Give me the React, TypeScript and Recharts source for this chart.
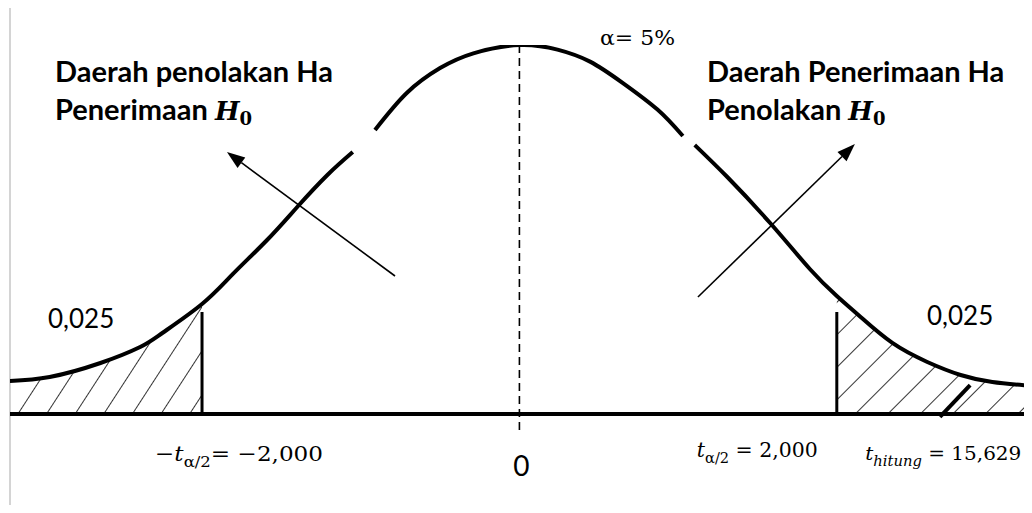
import React from 'react';
import { Area, ComposedChart, Line, ReferenceLine, XAxis, YAxis } from 'recharts';

// t positions read along the curve, and the drawn curve height at each (null = break in the stroke)
const tValues = [
	-3.21, -2.96, -2.64, -2.39, -2.25, -2.0, -1.805, -1.59, -1.4, -1.21, -1.05, -0.98, -0.91, -0.71, -0.5,
	-0.29, 0, 0.24, 0.445, 0.65, 0.87, 1.03, 1.07, 1.105, 1.31, 1.58, 1.83, 2.0, 2.15, 2.35, 2.57, 2.78, 2.98,
	3.23,
];
const density = [
	0.0358, 0.0401, 0.0553, 0.0726, 0.0878, 0.1192, 0.1518, 0.1886, 0.2244, 0.2591, 0.284, null, 0.3079, 0.348,
	0.375, 0.391, 0.4, 0.395, 0.382, 0.359, 0.33, 0.3013, null, 0.2916, 0.2569, 0.207, 0.1572, 0.1279, 0.1051,
	0.077, 0.0564, 0.0423, 0.0347, 0.0303,
];

const tCritical = 2;
const criticalLineTop = 0.1106;
const tHitungMark = 2.69;
const axisTicks = [-tCritical, 0, tCritical, tHitungMark];

// arrows: tail -> tip, in chart units
const leftArrow = [
	{ x: -0.784, y: 0.1496 },
	{ x: -1.843, y: 0.284 },
];
const rightArrow = [
	{ x: 1.125, y: 0.1268 },
	{ x: 2.114, y: 0.2927 },
];
const hitungStroke = [
	{ x: 2.65, y: -0.003 },
	{ x: 2.84, y: 0.0314 },
];

const data = tValues.map((t, i) => {
	const v = density[i];
	return {
		t,
		v,
		left: v !== null && t <= -tCritical ? v : null,
		right: v !== null && t >= tCritical ? v : null,
	};
});

const serif = '"DejaVu Serif", "Liberation Serif", serif';
const sans = 'Lato, "Open Sans", sans-serif';

const Arrow = (props: any) => {
	const { x1, y1, x2, y2 } = props;
	const ang = Math.atan2(y2 - y1, x2 - x1);
	const len = 18;
	const half = 6.5;
	const bx = x2 - len * Math.cos(ang);
	const by = y2 - len * Math.sin(ang);
	const px = -Math.sin(ang) * half;
	const py = Math.cos(ang) * half;
	return (
		<g>
			<line x1={x1} y1={y1} x2={bx} y2={by} stroke="#000" strokeWidth={1.6} />
			<polygon points={`${x2},${y2} ${bx + px},${by + py} ${bx - px},${by - py}`} fill="#000" />
		</g>
	);
};

const AxisLabel = (props: any) => {
	const { x, y, payload } = props;
	const v = payload.value;
	if (v === 0) {
		return (
			<text x={x + 2} y={y + 62} textAnchor="middle" fontFamily={sans} fontSize={28} fill="#000">
				0
			</text>
		);
	}
	if (v === -tCritical) {
		return (
			<text
				x={x - 47}
				y={y + 47}
				textLength={168}
				lengthAdjust="spacingAndGlyphs"
				fontFamily={serif}
				fontSize={21}
				fill="#000"
			>
				<tspan>−</tspan>
				<tspan fontStyle="italic">t</tspan>
				<tspan fontSize={15} dy={6}>α/2</tspan>
				<tspan dy={-6}>= −2,000</tspan>
			</text>
		);
	}
	if (v === tCritical) {
		return (
			<text
				x={x - 140}
				y={y + 43}
				textLength={121}
				lengthAdjust="spacingAndGlyphs"
				fontFamily={serif}
				fontSize={21}
				fill="#000"
			>
				<tspan fontStyle="italic">t</tspan>
				<tspan fontSize={15} dy={6}>α/2</tspan>
				<tspan dy={-6}> = 2,000</tspan>
			</text>
		);
	}
	return (
		<text
			x={x - 81}
			y={y + 46}
			textLength={156}
			lengthAdjust="spacingAndGlyphs"
			fontFamily={serif}
			fontSize={19}
			fill="#000"
		>
			<tspan fontStyle="italic">t</tspan>
			<tspan fontSize={14} fontStyle="italic" dy={6}>hitung</tspan>
			<tspan dy={-6}> = 15,629</tspan>
		</text>
	);
};

export default function App() {
	return (
		<div style={{ position: 'relative', width: 1032, height: 513, margin: -8, overflow: 'hidden' }}>
			<ComposedChart
				width={1032}
				height={513}
				data={data}
				margin={{ top: 45, right: 0, left: 10, bottom: 39 }}
				style={{ position: 'absolute', left: 0, top: 0 }}
			>
				<defs>
					<pattern id="hatchL" patternUnits="userSpaceOnUse" width={24} height={60} patternTransform="rotate(33)">
						<line x1={0} y1={0} x2={0} y2={60} stroke="#000" strokeWidth={1.6} />
					</pattern>
					<pattern id="hatchR" patternUnits="userSpaceOnUse" width={23} height={60} patternTransform="rotate(45)">
						<line x1={0} y1={0} x2={0} y2={60} stroke="#000" strokeWidth={1.6} />
					</pattern>
				</defs>
				{/* page frame */}
				<path d="M10,513 L10,7 L1032,7" fill="none" stroke="#d4d4d4" strokeWidth={2} />
				<XAxis
					type="number"
					dataKey="t"
					domain={[-3.21, 3.23]}
					allowDataOverflow
					ticks={axisTicks}
					interval={0}
					height={60}
					tickSize={0}
					tickMargin={0}
					tickLine={false}
					axisLine={false}
					tick={<AxisLabel />}
				/>
				<YAxis hide domain={[0, 0.4]} allowDataOverflow />
				<Area
					dataKey="left"
					type="natural"
					stroke="none"
					fill="url(#hatchL)"
					fillOpacity={1}
					isAnimationActive={false}
					connectNulls={false}
				/>
				<Area
					dataKey="right"
					type="natural"
					stroke="none"
					fill="url(#hatchR)"
					fillOpacity={1}
					isAnimationActive={false}
					connectNulls={false}
				/>
				<ReferenceLine y={0} stroke="#000" strokeWidth={4} />
				<ReferenceLine
					segment={[
						{ x: 0, y: 0.4 },
						{ x: 0, y: -0.021 },
					]}
					ifOverflow="visible"
					stroke="#000"
					strokeWidth={1.6}
					strokeDasharray="8 5"
				/>
				<ReferenceLine
					segment={[
						{ x: -tCritical, y: 0 },
						{ x: -tCritical, y: criticalLineTop },
					]}
					stroke="#000"
					strokeWidth={3}
				/>
				<ReferenceLine
					segment={[
						{ x: tCritical, y: 0 },
						{ x: tCritical, y: criticalLineTop },
					]}
					stroke="#000"
					strokeWidth={3}
				/>
				<ReferenceLine segment={hitungStroke} ifOverflow="visible" stroke="#000" strokeWidth={4} />
				<ReferenceLine segment={leftArrow} shape={<Arrow />} />
				<ReferenceLine segment={rightArrow} shape={<Arrow />} />
				<Line
					dataKey="v"
					type="natural"
					stroke="#000"
					strokeWidth={4}
					dot={false}
					connectNulls={false}
					isAnimationActive={false}
				/>
				<text x={55} y={82} fontFamily={sans} fontWeight={700} fontSize={29} fill="#000">
					Daerah penolakan Ha
				</text>
				<text x={55} y={120} fontFamily={sans} fontWeight={700} fontSize={29} fill="#000">
					<tspan>Penerimaan </tspan>
					<tspan fontFamily={serif} fontStyle="italic" fontWeight={700} fontSize={26}>H</tspan>
					<tspan fontFamily={serif} fontWeight={700} fontSize={18} dy={5}>0</tspan>
				</text>
				<text x={707} y={82} fontFamily={sans} fontWeight={700} fontSize={29} fill="#000">
					Daerah Penerimaan Ha
				</text>
				<text x={707} y={120} fontFamily={sans} fontWeight={700} fontSize={29} fill="#000">
					<tspan>Penolakan </tspan>
					<tspan fontFamily={serif} fontStyle="italic" fontWeight={700} fontSize={26}>H</tspan>
					<tspan fontFamily={serif} fontWeight={700} fontSize={18} dy={5}>0</tspan>
				</text>
				<text
					x={600}
					y={45}
					textLength={75}
					lengthAdjust="spacingAndGlyphs"
					fontFamily={serif}
					fontSize={20}
					fill="#000"
				>
					α= 5%
				</text>
				<text x={48} y={328} fontFamily={sans} fontSize={26} fill="#000">
					0,025
				</text>
				<text x={927} y={325} fontFamily={sans} fontSize={26} fill="#000">
					0,025
				</text>
			</ComposedChart>
		</div>
	);
}
